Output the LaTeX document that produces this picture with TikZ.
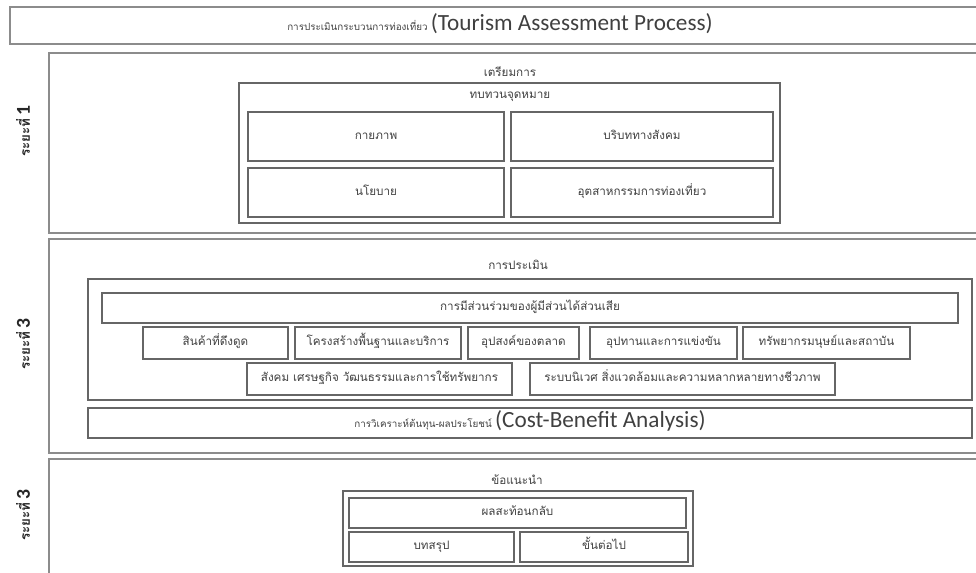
\documentclass[tikz,border=0pt]{standalone}
\usepackage{fontspec}
\setmainfont{Carlito}
\newfontfamily\thai[Script=Thai]{Loma}
\newfontfamily\eng{Carlito}
\usetikzlibrary{positioning}
\tikzset{
	box/.style 2 args={minimum width=#1*0.025cm, minimum height=#2*0.025cm},
	phasebox/.style={rectangle, draw=black!45, line width=1.2pt, inner sep=0pt},
	groupbox/.style={rectangle, draw=black!60, line width=0.9pt, inner sep=0pt},
	rectnode/.style={rectangle, draw=black!60, line width=0.9pt, inner sep=0pt, text height=6pt, text depth=2pt, font=\thai\fontsize{8.3}{10}\selectfont, text=black!75},
	mixnode/.style={text height=10pt, text depth=3pt, font=\thai\fontsize{7}{10}\selectfont},
	headnode/.style={font=\thai\fontsize{8.3}{10}\selectfont, text=black!75},
	sidenode/.style={rotate=90, font=\bfseries, text=black!85}
}
\newcommand{\engtxt}[1]{{\eng\fontsize{16.5}{18}\selectfont #1}}

\begin{document}
\begin{tikzpicture}[x=0.025cm, y=-0.025cm]
		\useasboundingbox (0,0) rectangle (976,573);
		\clip (0,0) rectangle (976,573);
		
		% title
		\node[rectnode, phasebox, mixnode, box={980}{37}] at (500,25.5) (title) {การประเมินกระบวนการท่องเที่ยว \engtxt{(Tourism Assessment Process)}};
		
		% phase 1
		\node[phasebox, box={941}{180}] at (519.5,143) (ph1) {};
		\node[sidenode] at (23,131) (ph1t) {{\thai\fontsize{9.5}{10}\selectfont ระยะที่} {\eng\fontsize{14}{15}\selectfont 1}};
		\node[headnode] at (510,72) (prep) {เตรียมการ};
		\node[groupbox, box={541}{140}] at (509.5,153) (review) {};
		\node[headnode] at (510,97) (reviewt) {ทบทวนจุดหมาย};
		\node[rectnode, box={256}{49}] at (376,136.5) (phys) {กายภาพ};
		\node[rectnode, box={262}{49}] at (642,136.5) (social) {บริบททางสังคม};
		\node[rectnode, box={256}{49}] at (376,192.5) (policy) {นโยบาย};
		\node[rectnode, box={262}{49}] at (642,192.5) (industry) {อุตสาหกรรมการท่องเที่ยว};
		
		% phase 2
		\node[phasebox, box={941}{214}] at (519.5,346) (ph2) {};
		\node[sidenode] at (23,344) (ph2t) {{\thai\fontsize{9.5}{10}\selectfont ระยะที่} {\eng\fontsize{14}{15}\selectfont 3}};
		\node[headnode] at (518,265) (assess) {การประเมิน};
		\node[groupbox, box={884}{121}] at (530,339.5) (factors) {};
		\node[rectnode, box={856}{30}] at (530,308) (stake) {การมีส่วนร่วมของผู้มีส่วนได้ส่วนเสีย};
		\node[rectnode, box={145}{32}] at (215.5,343) (attr) {สินค้าที่ดึงดูด};
		\node[rectnode, box={166}{32}] at (378,343) (infra) {โครงสร้างพื้นฐานและบริการ};
		\node[rectnode, box={111}{32}] at (523.5,343) (demand) {อุปสงค์ของตลาด};
		\node[rectnode, box={147}{32}] at (663.5,343) (supply) {อุปทานและการแข่งขัน};
		\node[rectnode, box={167}{32}] at (826.5,343) (human) {ทรัพยากรมนุษย์และสถาบัน};
		\node[rectnode, box={265}{32}] at (379.5,379) (socio) {สังคม เศรษฐกิจ วัฒนธรรมและการใช้ทรัพยากร};
		\node[rectnode, box={305}{32}] at (682.5,379) (eco) {ระบบนิเวศ สิ่งแวดล้อมและความหลากหลายทางชีวภาพ};
		\node[rectnode, mixnode, box={884}{30}] at (530,423) (cba) {การวิเคราะห์ต้นทุน-ผลประโยชน์ \engtxt{(Cost-Benefit Analysis)}};
		
		% phase 3
		\node[phasebox, box={941}{126}] at (519.5,522) (ph3) {};
		\node[sidenode] at (23,515) (ph3t) {{\thai\fontsize{9.5}{10}\selectfont ระยะที่} {\eng\fontsize{14}{15}\selectfont 3}};
		\node[headnode] at (517,480) (advice) {ข้อแนะนำ};
		\node[groupbox, box={350}{75}] at (518,528.5) (result) {};
		\node[rectnode, box={337}{30}] at (517.5,513) (feedback) {ผลสะท้อนกลับ};
		\node[rectnode, box={165}{30}] at (431.5,547) (summary) {บทสรุป};
		\node[rectnode, box={168}{30}] at (604,547) (next) {ขั้นต่อไป};
	\end{tikzpicture}
\end{document}
